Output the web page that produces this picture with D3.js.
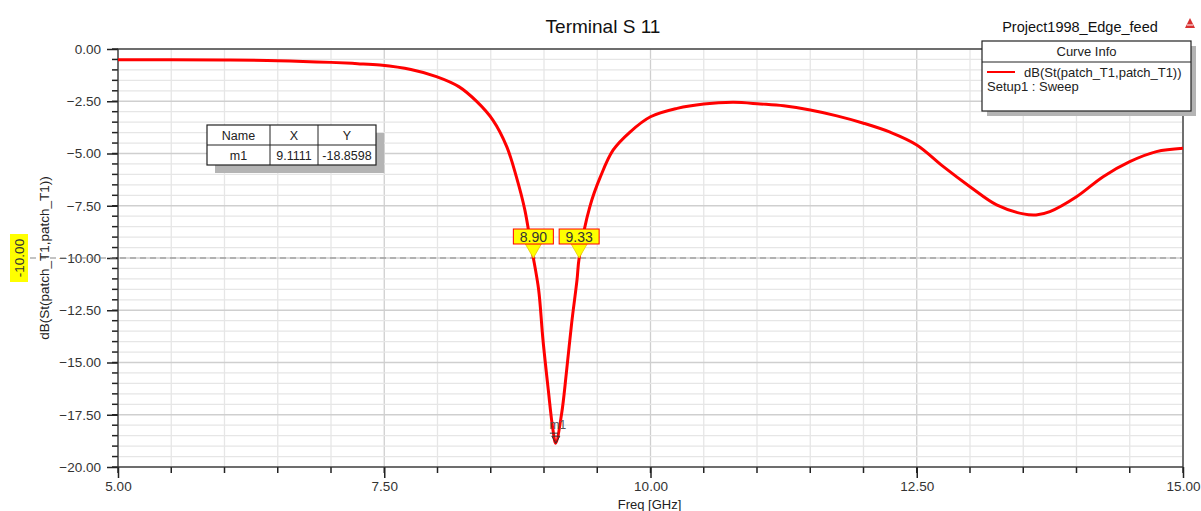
<!DOCTYPE html>
<html>
<head>
<meta charset="utf-8">
<script src="https://cdn.jsdelivr.net/npm/d3@7"></script>
<style>
  body { margin: 0; background: #fff; }
  svg { font-family: "Liberation Sans", Arial, sans-serif; }
</style>
</head>
<body>
<div class="chart"></div>
<script>
// frequency points (GHz) and S11 (dB)
const freq = [5.0, 5.5, 6.0, 6.5, 7.0, 7.25, 7.46, 7.75, 7.99, 8.2, 8.37, 8.52, 8.65, 8.74, 8.82, 8.88, 8.90, 8.95, 8.99, 9.04, 9.08, 9.11, 9.166, 9.21, 9.26, 9.31, 9.33, 9.43, 9.53, 9.65, 9.81, 10.0, 10.25, 10.5, 10.78, 11.03, 11.25, 11.5, 11.75, 12.0, 12.25, 12.5, 12.75, 13.0, 13.25, 13.5, 13.62, 13.75, 14.0, 14.25, 14.5, 14.75, 15.0];
const s11 = [-0.52, -0.52, -0.53, -0.56, -0.64, -0.70, -0.77, -0.98, -1.32, -1.80, -2.52, -3.40, -4.67, -6.11, -7.70, -9.46, -10.0, -11.53, -13.9, -16.3, -18.07, -18.86, -17.43, -15.5, -13.1, -11.05, -10.0, -7.55, -6.11, -4.83, -3.96, -3.24, -2.84, -2.63, -2.55, -2.63, -2.72, -2.92, -3.20, -3.55, -3.98, -4.59, -5.63, -6.59, -7.46, -7.89, -7.94, -7.78, -7.07, -6.11, -5.39, -4.91, -4.75];

const xTicks = [5, 7.5, 10, 12.5, 15];
const yTicks = [0, -2.5, -5, -7.5, -10, -12.5, -15, -17.5, -20];
const crossMarkers = [8.90, 9.33];
const refLevel = -10;
const markerTable = [["Name", "X", "Y"], ["m1", "9.1111", "-18.8598"]];
const m1 = { f: 9.1111, v: -18.8598 };

const width = 1201, height = 511;
const plot = { left: 118, right: 1183, top: 49, bottom: 467 };

const svg = d3.select(".chart").append("svg")
  .attr("width", width)
  .attr("height", height);

const x = d3.scaleLinear().domain([5, 15]).range([plot.left, plot.right]);
const y = d3.scaleLinear().domain([-20, 0]).range([plot.bottom, plot.top]);

// grid: minor every 0.5, major every 2.5
const xMinor = d3.range(5, 15.001, 0.5);
const yMinor = d3.range(0, -20.001, -0.5);
const isMajor = d => Math.abs(d / 2.5 - Math.round(d / 2.5)) < 1e-6;

svg.append("g").selectAll("line")
  .data(xMinor)
  .enter().append("line")
  .attr("x1", d => x(d)).attr("x2", d => x(d))
  .attr("y1", plot.top).attr("y2", plot.bottom)
  .attr("stroke", d => isMajor(d) ? "#cfcfcf" : "#e6e6e6")
  .attr("stroke-width", 1.3);

svg.append("g").selectAll("line")
  .data(yMinor)
  .enter().append("line")
  .attr("x1", plot.left).attr("x2", plot.right)
  .attr("y1", d => y(d)).attr("y2", d => y(d))
  .attr("stroke", d => isMajor(d) ? "#cfcfcf" : "#e6e6e6")
  .attr("stroke-width", 1.3);

// axes
const xAxis = d3.axisBottom(x).tickValues(xTicks).tickFormat(d3.format(".2f")).tickSize(11).tickPadding(3);
const yAxis = d3.axisLeft(y).tickValues(yTicks).tickFormat(d3.format(".2f")).tickSize(11).tickPadding(6);

const gx = svg.append("g").attr("transform", `translate(0,${plot.bottom})`).call(xAxis);
const gy = svg.append("g").attr("transform", `translate(${plot.left},0)`).call(yAxis);
[gx, gy].forEach(g => {
  g.select(".domain").remove();
  g.selectAll(".tick line").attr("stroke", "#222").attr("stroke-width", 1.5);
  g.selectAll(".tick text").attr("fill", "#333").style("font-size", "13.5px")
    .style("font-family", "'Liberation Sans', Arial, sans-serif");
});

// minor ticks
svg.append("g").selectAll("line")
  .data(xMinor)
  .enter().append("line")
  .attr("x1", d => x(d)).attr("x2", d => x(d))
  .attr("y1", plot.bottom).attr("y2", plot.bottom + 6)
  .attr("stroke", "#222").attr("stroke-width", 1.5);
svg.append("g").selectAll("line")
  .data(yMinor)
  .enter().append("line")
  .attr("x1", plot.left - 6).attr("x2", plot.left)
  .attr("y1", d => y(d)).attr("y2", d => y(d))
  .attr("stroke", "#222").attr("stroke-width", 1.5);

// frame
svg.append("rect")
  .attr("x", plot.left).attr("y", plot.top)
  .attr("width", plot.right - plot.left).attr("height", plot.bottom - plot.top)
  .attr("fill", "none").attr("stroke", "#333").attr("stroke-width", 1.3);

// reference dashed line at -10 dB
svg.append("line")
  .attr("x1", 30).attr("x2", plot.right)
  .attr("y1", y(refLevel)).attr("y2", y(refLevel))
  .attr("stroke", "#888").attr("stroke-width", 1.2)
  .attr("stroke-dasharray", "6,4");

const refLabel = svg.append("g")
  .attr("transform", `translate(19,${y(refLevel)}) rotate(-90)`);
refLabel.append("rect")
  .attr("x", -24).attr("y", -9).attr("width", 48).attr("height", 18)
  .attr("fill", "#ffff00");
refLabel.append("text")
  .attr("text-anchor", "middle").attr("dy", "0.35em")
  .attr("fill", "#333").style("font-size", "13.5px")
  .text(refLevel.toFixed(2));

// curve
const line = d3.line()
  .x((d, i) => x(freq[i]))
  .y(d => y(d))
  .curve(d3.curveCatmullRom.alpha(0.5));

svg.append("path")
  .datum(s11)
  .attr("d", line)
  .attr("fill", "none")
  .attr("stroke", "#ff0000")
  .attr("stroke-width", 3);

// crossing marker tags
crossMarkers.forEach(f => {
  const cx = x(f), cy = y(refLevel);
  const g = svg.append("g");
  g.append("path")
    .attr("d", `M${cx - 8},${cy - 14} L${cx + 8},${cy - 14} L${cx},${cy} Z`)
    .attr("fill", "#ffff00").attr("stroke", "#e8c800").attr("stroke-width", 0.8);
  g.append("rect")
    .attr("x", cx - 20).attr("y", cy - 29).attr("width", 40).attr("height", 15)
    .attr("fill", "#ffff00").attr("stroke", "#ff0000").attr("stroke-width", 1);
  g.append("text")
    .attr("x", cx).attr("y", cy - 16.5)
    .attr("text-anchor", "middle")
    .attr("fill", "#333").style("font-size", "14px")
    .text(f.toFixed(2));
});

// m1 marker
const mx = x(m1.f), my = y(m1.v);
svg.append("path")
  .attr("d", `M${mx - 4},${my - 7} L${mx + 4},${my - 7} L${mx},${my} Z`)
  .attr("fill", "none").attr("stroke", "#333").attr("stroke-width", 1);
svg.append("line")
  .attr("x1", mx - 6).attr("x2", mx + 2).attr("y1", my - 10).attr("y2", my - 10)
  .attr("stroke", "#333").attr("stroke-width", 1);
svg.append("text")
  .attr("x", mx + 2).attr("y", my - 14)
  .attr("text-anchor", "middle")
  .attr("fill", "#555").style("font-size", "12px")
  .text("m1");

// marker table
const tbl = { x: 207, y: 125, colW: [63, 48, 58], rowH: 20 };
const tblW = d3.sum(tbl.colW), tblH = tbl.rowH * markerTable.length;
svg.append("rect")
  .attr("x", tbl.x + 8).attr("y", tbl.y + 8)
  .attr("width", tblW).attr("height", tblH)
  .attr("fill", "#b4b4b4");
svg.append("rect")
  .attr("x", tbl.x).attr("y", tbl.y)
  .attr("width", tblW).attr("height", tblH)
  .attr("fill", "#fff").attr("stroke", "#222").attr("stroke-width", 1.2);
let colX = tbl.x;
tbl.colW.forEach((w, ci) => {
  if (ci > 0) {
    svg.append("line").attr("x1", colX).attr("x2", colX)
      .attr("y1", tbl.y).attr("y2", tbl.y + tblH)
      .attr("stroke", "#222").attr("stroke-width", 1);
  }
  markerTable.forEach((row, ri) => {
    svg.append("text")
      .attr("x", colX + w / 2).attr("y", tbl.y + ri * tbl.rowH + 14.5)
      .attr("text-anchor", "middle")
      .attr("fill", "#222").style("font-size", "12.5px")
      .text(row[ci]);
  });
  colX += w;
});
svg.append("line").attr("x1", tbl.x).attr("x2", tbl.x + tblW)
  .attr("y1", tbl.y + tbl.rowH).attr("y2", tbl.y + tbl.rowH)
  .attr("stroke", "#222").attr("stroke-width", 1);

// curve info legend
const lg = { x: 982, y: 41, w: 209, h: 70 };
svg.append("rect")
  .attr("x", lg.x + 5).attr("y", lg.y + 5).attr("width", lg.w).attr("height", lg.h)
  .attr("fill", "#b4b4b4");
svg.append("rect")
  .attr("x", lg.x).attr("y", lg.y).attr("width", lg.w).attr("height", lg.h)
  .attr("fill", "#fff").attr("stroke", "#222").attr("stroke-width", 1.2);
svg.append("line")
  .attr("x1", lg.x).attr("x2", lg.x + lg.w)
  .attr("y1", lg.y + 21).attr("y2", lg.y + 21)
  .attr("stroke", "#222").attr("stroke-width", 1);
svg.append("text")
  .attr("x", lg.x + lg.w / 2).attr("y", lg.y + 15)
  .attr("text-anchor", "middle").attr("fill", "#222")
  .style("font-size", "13px").text("Curve Info");
svg.append("line")
  .attr("x1", lg.x + 5).attr("x2", lg.x + 33)
  .attr("y1", lg.y + 31).attr("y2", lg.y + 31)
  .attr("stroke", "#ff0000").attr("stroke-width", 2);
svg.append("text")
  .attr("x", lg.x + 42).attr("y", lg.y + 35.5)
  .attr("fill", "#222").style("font-size", "13px")
  .text("dB(St(patch_T1,patch_T1))");
svg.append("text")
  .attr("x", lg.x + 5).attr("y", lg.y + 50)
  .attr("fill", "#222").style("font-size", "13px")
  .text("Setup1 : Sweep");

// titles
svg.append("text")
  .attr("x", 603).attr("y", 33)
  .attr("text-anchor", "middle").attr("fill", "#111")
  .style("font-size", "19px").text("Terminal S 11");
svg.append("text")
  .attr("x", 1080).attr("y", 32)
  .attr("text-anchor", "middle").attr("fill", "#111")
  .style("font-size", "14.5px").text("Project1998_Edge_feed");
// small red logo
const lx = 1190, ly = 24;
svg.append("path")
  .attr("d", `M${lx},${ly - 6} L${lx + 5},${ly + 4} L${lx - 5},${ly + 4} Z`)
  .attr("fill", "#d83030");
svg.append("line")
  .attr("x1", lx - 3).attr("x2", lx + 3).attr("y1", ly + 1).attr("y2", ly + 1)
  .attr("stroke", "#fff").attr("stroke-width", 1);

// axis labels
svg.append("text")
  .attr("x", plot.left + (plot.right - plot.left) / 2 - 1).attr("y", 509)
  .attr("text-anchor", "middle").attr("fill", "#222")
  .style("font-size", "13px").text("Freq [GHz]");
svg.append("text")
  .attr("transform", `translate(49,${y(-10)}) rotate(-90)`)
  .attr("text-anchor", "middle").attr("fill", "#222")
  .style("font-size", "13.5px").text("dB(St(patch_T1,patch_T1))");
</script>
</body>
</html>
